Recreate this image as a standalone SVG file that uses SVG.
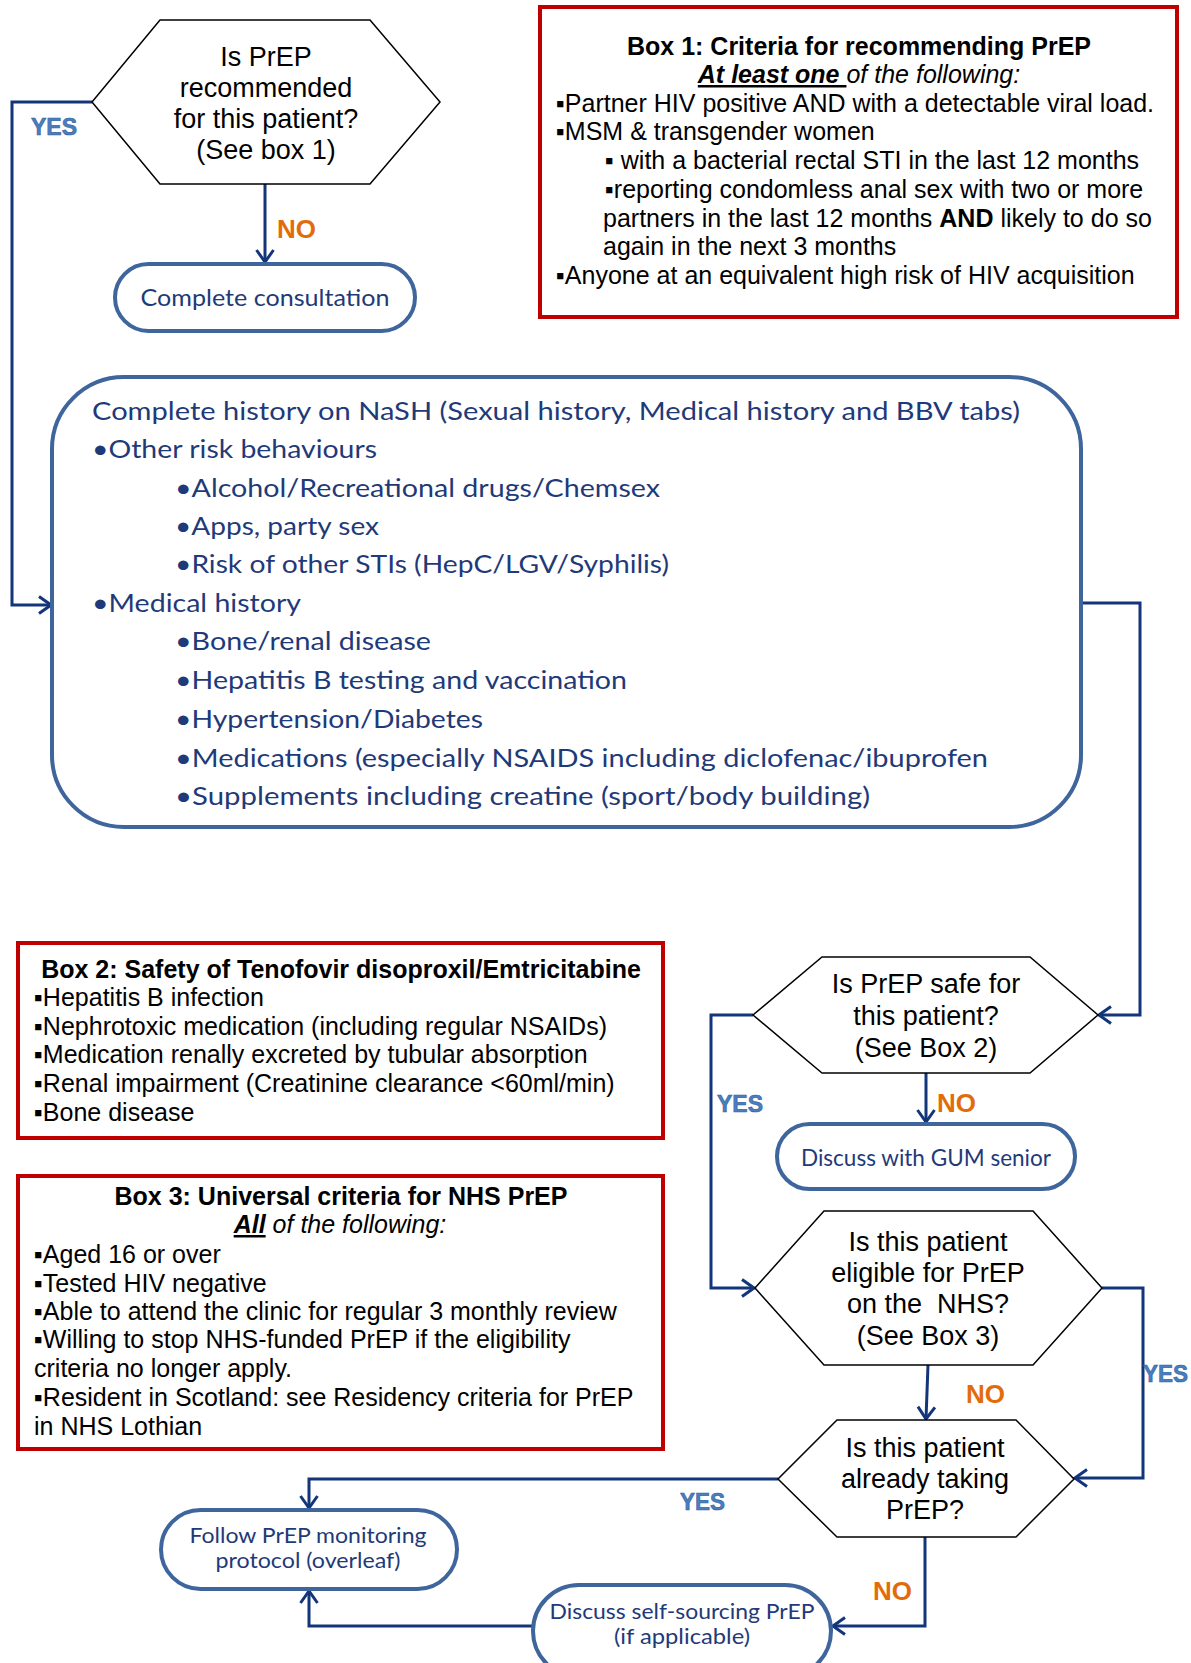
<svg xmlns="http://www.w3.org/2000/svg" width="1191" height="1663" viewBox="0 0 1191 1663">
<defs>
<style>
.hex{fill:#fff;stroke:#000;stroke-width:1.5}
.pill{fill:#fff;stroke:#3E659C;stroke-width:4}
.box{fill:#fff;stroke:#C00000;stroke-width:4}
.conn{fill:none;stroke:#13357A;stroke-width:3}
.q{font-family:"Liberation Sans",Arial,sans-serif;font-size:27px;fill:#000;text-anchor:middle}
.bt{font-family:"Liberation Sans",Arial,sans-serif;font-size:25px;fill:#000}
.bh{font-weight:bold;text-anchor:middle}
.ct{font-family:Lato,"Open Sans",sans-serif;fill:#1F3A78}
.big{font-size:25px}
.pt{font-size:22.5px;text-anchor:middle}
.pt2{font-size:20.5px;text-anchor:middle}
.no{font-family:"Liberation Sans",Arial,sans-serif;font-weight:bold;font-size:26px;fill:#E36C0A}
.yes{font-family:"Liberation Sans",Arial,sans-serif;font-weight:bold;font-size:24px;fill:#4A7EBE;stroke:#2F5F9F;stroke-width:0.6}
</style>
<marker id="arr" viewBox="-2 -2 16 21" refX="12" refY="8.5" markerWidth="16" markerHeight="21" markerUnits="userSpaceOnUse" orient="auto">
<path d="M0,0 L12,8.5 L0,17" fill="none" stroke="#13357A" stroke-width="3"/>
</marker>
</defs>
<rect width="1191" height="1663" fill="#fff"/>

<g id="connectors">
<path class="conn" d="M265,184 L265,262" marker-end="url(#arr)"/>
<path class="conn" d="M92,102 L12,102 L12,605 L51,605" marker-end="url(#arr)"/>
<path class="conn" d="M1081,603 L1140,603 L1140,1015 L1099,1015" marker-end="url(#arr)"/>
<path class="conn" d="M926,1073 L926,1122" marker-end="url(#arr)"/>
<path class="conn" d="M753,1015 L711,1015 L711,1288 L754,1288" marker-end="url(#arr)"/>
<path class="conn" d="M928,1365 L926,1419" marker-end="url(#arr)"/>
<path class="conn" d="M1102,1288 L1143,1288 L1143,1478 L1075,1478" marker-end="url(#arr)"/>
<path class="conn" d="M778,1479 L309,1479 L309,1508" marker-end="url(#arr)"/>
<path class="conn" d="M925,1537 L925,1626 L833,1626" marker-end="url(#arr)"/>
<path class="conn" d="M533,1626 L309,1626 L309,1591" marker-end="url(#arr)"/>
<text class="yes" x="31" y="135" textLength="46" lengthAdjust="spacingAndGlyphs">YES</text>
<text class="no" x="277" y="238">NO</text>
<text class="yes" x="717" y="1112" textLength="46" lengthAdjust="spacingAndGlyphs">YES</text>
<text class="no" x="937" y="1112">NO</text>
<text class="no" x="966" y="1403">NO</text>
<text class="yes" x="1143" y="1382" textLength="45" lengthAdjust="spacingAndGlyphs">YES</text>
<text class="yes" x="680" y="1510" textLength="45" lengthAdjust="spacingAndGlyphs">YES</text>
<text class="no" x="873" y="1600">NO</text>
</g>

<g id="q1">
<polygon class="hex" points="160,20 370,20 440,102 370,184 160,184 92,102"/>
<text class="q" x="266" y="66">Is PrEP</text>
<text class="q" x="266" y="97">recommended</text>
<text class="q" x="266" y="128">for this patient?</text>
<text class="q" x="266" y="159">(See box 1)</text>
</g>

<g id="end1">
<rect class="pill" x="115" y="264" width="300" height="67" rx="33.5"/>
<text class="ct pt" x="265" y="306" style="font-size:24px" textLength="249" lengthAdjust="spacingAndGlyphs">Complete consultation</text>
</g>

<g id="box1">
<rect class="box" x="540" y="7" width="637" height="310"/>
<text class="bt bh" x="859" y="55">Box 1: Criteria for recommending PrEP</text>
<text class="bt" x="859" y="83" text-anchor="middle" font-style="italic"><tspan font-weight="bold" text-decoration="underline">At least one </tspan>of the following:</text>
<text class="bt" x="556" y="112">▪Partner HIV positive AND with a detectable viral load.</text>
<text class="bt" x="556" y="140">▪MSM &amp; transgender women</text>
<text class="bt" x="605" y="169">▪ with a bacterial rectal STI in the last 12 months</text>
<text class="bt" x="605" y="198">▪reporting condomless anal sex with two or more</text>
<text class="bt" x="603" y="227">partners in the last 12 months <tspan font-weight="bold">AND</tspan> likely to do so</text>
<text class="bt" x="603" y="255">again in the next 3 months</text>
<text class="bt" x="556" y="284">▪Anyone at an equivalent high risk of HIV acquisition</text>
</g>

<g id="history">
<rect x="52" y="377" width="1029" height="450" rx="72" fill="#fff" stroke="#3E659C" stroke-width="4"/>
<g class="ct big">
<text x="92" y="420" textLength="928" lengthAdjust="spacingAndGlyphs">Complete history on NaSH (Sexual history, Medical history and BBV tabs)</text>
<text x="92" y="458" textLength="285" lengthAdjust="spacingAndGlyphs">•Other risk behaviours</text>
<text x="175" y="497" textLength="485" lengthAdjust="spacingAndGlyphs">•Alcohol/Recreational drugs/Chemsex</text>
<text x="175" y="535" textLength="204" lengthAdjust="spacingAndGlyphs">•Apps, party sex</text>
<text x="175" y="573" textLength="494" lengthAdjust="spacingAndGlyphs">•Risk of other STIs (HepC/LGV/Syphilis)</text>
<text x="92" y="612" textLength="209" lengthAdjust="spacingAndGlyphs">•Medical history</text>
<text x="175" y="650" textLength="256" lengthAdjust="spacingAndGlyphs">•Bone/renal disease</text>
<text x="175" y="689" textLength="452" lengthAdjust="spacingAndGlyphs">•Hepatitis B testing and vaccination</text>
<text x="175" y="728" textLength="308" lengthAdjust="spacingAndGlyphs">•Hypertension/Diabetes</text>
<text x="175" y="767" textLength="813" lengthAdjust="spacingAndGlyphs">•Medications (especially NSAIDS including diclofenac/ibuprofen</text>
<text x="175" y="805" textLength="695" lengthAdjust="spacingAndGlyphs">•Supplements including creatine (sport/body building)</text>
</g>
</g>

<g id="box2">
<rect class="box" x="18" y="943" width="645" height="195"/>
<text class="bt bh" x="341" y="978">Box 2: Safety of Tenofovir disoproxil/Emtricitabine</text>
<text class="bt" x="34" y="1006">▪Hepatitis B infection</text>
<text class="bt" x="34" y="1035">▪Nephrotoxic medication (including regular NSAIDs)</text>
<text class="bt" x="34" y="1063">▪Medication renally excreted by tubular absorption</text>
<text class="bt" x="34" y="1092">▪Renal impairment (Creatinine clearance &lt;60ml/min)</text>
<text class="bt" x="34" y="1121">▪Bone disease</text>
</g>

<g id="box3">
<rect class="box" x="18" y="1176" width="645" height="273"/>
<text class="bt bh" x="341" y="1205">Box 3: Universal criteria for NHS PrEP</text>
<text class="bt" x="340" y="1233" text-anchor="middle" font-style="italic"><tspan font-weight="bold" text-decoration="underline">All</tspan> of the following:</text>
<text class="bt" x="34" y="1263">▪Aged 16 or over</text>
<text class="bt" x="34" y="1292">▪Tested HIV negative</text>
<text class="bt" x="34" y="1320">▪Able to attend the clinic for regular 3 monthly review</text>
<text class="bt" x="34" y="1348">▪Willing to stop NHS-funded PrEP if the eligibility</text>
<text class="bt" x="34" y="1377">criteria no longer apply.</text>
<text class="bt" x="34" y="1406">▪Resident in Scotland: see Residency criteria for PrEP</text>
<text class="bt" x="34" y="1435">in NHS Lothian</text>
</g>

<g id="q2">
<polygon class="hex" points="822,957 1030,957 1098,1015 1030,1073 822,1073 753,1015"/>
<text class="q" x="926" y="993">Is PrEP safe for</text>
<text class="q" x="926" y="1025">this patient?</text>
<text class="q" x="926" y="1057">(See Box 2)</text>
</g>

<g id="end2">
<rect class="pill" x="777" y="1124" width="298" height="65" rx="32.5"/>
<text class="ct pt" x="926" y="1166" textLength="250" lengthAdjust="spacingAndGlyphs">Discuss with GUM senior</text>
</g>

<g id="q3">
<polygon class="hex" points="824,1211 1033,1211 1102,1288 1033,1365 824,1365 755,1288"/>
<text class="q" x="928" y="1251">Is this patient</text>
<text class="q" x="928" y="1282">eligible for PrEP</text>
<text class="q" x="928" y="1313" style="white-space:pre">on the  NHS?</text>
<text class="q" x="928" y="1345">(See Box 3)</text>
</g>

<g id="q4">
<polygon class="hex" points="837,1420 1016,1420 1074,1479 1016,1537 837,1537 778,1479"/>
<text class="q" x="925" y="1457">Is this patient</text>
<text class="q" x="925" y="1488">already taking</text>
<text class="q" x="925" y="1519">PrEP?</text>
</g>

<g id="follow">
<rect class="pill" x="161" y="1510" width="296" height="79" rx="39.5"/>
<text class="ct pt2" x="308" y="1543" textLength="237" lengthAdjust="spacingAndGlyphs">Follow PrEP monitoring</text>
<text class="ct pt2" x="308" y="1568" textLength="185" lengthAdjust="spacingAndGlyphs">protocol (overleaf)</text>
</g>

<g id="selfsource">
<rect class="pill" x="533" y="1585" width="298" height="92" rx="46"/>
<text class="ct pt2" x="682" y="1619" textLength="265" lengthAdjust="spacingAndGlyphs">Discuss self-sourcing PrEP</text>
<text class="ct pt2" x="682" y="1644" textLength="136" lengthAdjust="spacingAndGlyphs">(if applicable)</text>
</g>
</svg>
